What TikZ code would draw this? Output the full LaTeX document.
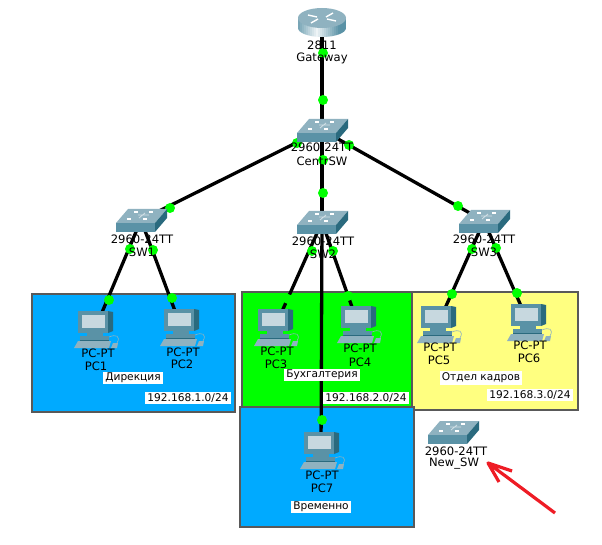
\documentclass[tikz,border=0pt]{standalone}
\usepackage{fontspec}
\setmainfont{DejaVu Sans}
\definecolor{iconmid}{HTML}{5A92A6}
\definecolor{icondark}{HTML}{2A6A7E}
\definecolor{iconlight}{HTML}{8FB2C0}
\definecolor{areablue}{HTML}{00AAFF}
\definecolor{areagreen}{HTML}{00FF00}
\definecolor{areayellow}{HTML}{FFFF80}
\definecolor{pointerred}{HTML}{EE1C25}
\tikzset{
	x=1pt,y=-1pt,
	device/.style={inner sep=0pt,outer sep=0pt,minimum size=0pt},
	wire/.style={line width=3.3pt,black},
	linkdot/.style={circle,fill=areagreen,inner sep=0pt,minimum size=10pt},
	devlabel/.style={inner sep=0pt,font=\fontsize{11.6}{13}\selectfont,text=black},
	arealabel/.style={fill=white,inner xsep=2pt,inner ysep=1.5pt,font=\fontsize{10.6}{12}\selectfont,text=black},
	area/.style={draw=black!65,line width=1.4pt},
	pics/netswitch/.style={code={
		\fill[iconlight] (-25,3) -- (-13,-11) -- (26,-11) -- (14,3) -- cycle;
		\fill[iconmid] (-25,3) rectangle (14,12);
		\fill[icondark] (14,3) -- (26,-11) -- (26,-2) -- (14,12) -- cycle;
		\draw[white,line width=1.1pt] (-7,-8) -- (-3,-8) (8,-8) -- (12,-8) (-14,-1) -- (-10,-1) (2,-1) -- (6,-1);
		\draw[white!60!iconlight,line width=.8pt] (-2,-2) -- (4,-7) (-3,-5) -- (8,-5);
	}},
	pics/netpc/.style={code={
		\fill[icondark] (13,-18) -- (18,-17) -- (18,2) -- (13,4) -- cycle;
		\fill[iconmid] (-17,-18) rectangle (13,4);
		\fill[iconlight!50!white] (-13,-14) rectangle (10,-1);
		\fill[iconmid] (-8,4) rectangle (8,7);
		\fill[iconmid] (-15,7) rectangle (14,11);
		\fill[icondark] (-15,11) rectangle (14,12);
		\fill[iconlight] (-17,12) -- (16,12) -- (14,19) -- (-21,19) -- cycle;
		\fill[iconlight] (18,14) -- (23,14) -- (22,19) -- (16,19) -- cycle;
		\draw[iconlight,line width=.6pt] (14,8) .. controls (21,5) and (26,7) .. (22,14);
	}},
	pics/netrouter/.style={code={
		\begin{scope}
			\clip (-24,-2) -- (-24,8) arc[start angle=180,end angle=360,x radius=24pt,y radius=9pt] -- (24,-2) -- cycle;
			% cylinder wall, brightest left of the middle
			\foreach \i in {-24,-22,...,22}{
				\pgfmathtruncatemacro{\lit}{max(0,90-4*abs(\i+6))}
				\fill[white!\lit!iconmid] (\i,-2) rectangle (\i+2.3,18);
			}
		\end{scope}
		\fill[iconlight] (0,-2) ellipse[x radius=24pt,y radius=10pt];
		\draw[white,line width=1.4pt] (-14,-5) -- (-5,-3) (14,1) -- (5,-1) (-11,3) -- (-4,-1) (11,-7) -- (4,-3);
	}}
}
\begin{document}
\begin{tikzpicture}
	\useasboundingbox (0,0) rectangle (602,545);
	
	\draw[area,fill=areablue] (32,294) rectangle (235,412);
	\draw[area,fill=areayellow] (412,292) rectangle (578,410);
	\draw[area,fill=areagreen] (242,292) rectangle (412,407);
	\draw[area,fill=areablue] (240,407) rectangle (414,527);
	
	\node[device] (Gateway) at (322,20) {};
	\node[device] (CentrSW) at (322,130) {};
	\node[device] (SW1) at (141,220) {};
	\node[device] (SW2) at (322,222) {};
	\node[device] (SW3) at (484,221) {};
	\node[device] (NewSW) at (453,432) {};
	\node[device] (PC1) at (95,329) {};
	\node[device] (PC2) at (181,327) {};
	\node[device] (PC3) at (275,327) {};
	\node[device] (PC4) at (358,324) {};
	\node[device] (PC5) at (438,324) {};
	\node[device] (PC6) at (528,322) {};
	\node[device] (PC7) at (321,450) {};
	
	\draw[wire] (Gateway) -- (CentrSW);
	\draw[wire] (CentrSW) -- (SW1);
	\draw[wire] (CentrSW) -- (SW2);
	\draw[wire] (CentrSW) -- (SW3);
	\draw[wire] (SW1) -- (PC1);
	\draw[wire] (SW1) -- (PC2);
	\draw[wire] (SW2) -- (PC3);
	\draw[wire] (SW2) -- (PC4);
	\draw[wire] (SW3) -- (PC5);
	\draw[wire] (SW3) -- (PC6);
	
	% link lights
	\node[linkdot] (dGa) at (323,53) {};
	\node[linkdot] (dCa) at (323,100) {};
	\node[linkdot] (dCb) at (297,143) {};
	\node[linkdot] (dCc) at (323,160) {};
	\node[linkdot] (dCd) at (349,145) {};
	\node[linkdot] (dSa) at (170,208) {};
	\node[linkdot] (dSb) at (323,193) {};
	\node[linkdot] (dSc) at (458,206) {};
	\node[linkdot] (dAa) at (130,249) {};
	\node[linkdot] (dAb) at (153,250) {};
	\node[linkdot] (dBa) at (312,251) {};
	\node[linkdot] (dBb) at (333,251) {};
	\node[linkdot] (dEa) at (472,249) {};
	\node[linkdot] (dEb) at (496,248) {};
	\node[linkdot] (dPa) at (109,300) {};
	\node[linkdot] (dPb) at (172,298) {};
	\node[linkdot] (dPc) at (288,299) {};
	\node[linkdot] (dPd) at (348,296) {};
	\node[linkdot] (dPe) at (452,294) {};
	\node[linkdot] (dPf) at (517,293) {};
	
	% the PC7 cable runs over the lights of SW2
	\draw[wire] (SW2) -- (PC7);
	\node[linkdot] (dPg) at (322,420) {};
	
	\pic at (Gateway) {netrouter};
	\pic at (CentrSW) {netswitch};
	\pic at (SW1) {netswitch};
	\pic at (SW2) {netswitch};
	\pic at (SW3) {netswitch};
	\pic at (NewSW) {netswitch};
	\pic at (PC1) {netpc};
	\pic at (PC2) {netpc};
	\pic at (PC3) {netpc};
	\pic at (PC4) {netpc};
	\pic at (PC5) {netpc};
	\pic at (PC6) {netpc};
	\pic at (PC7) {netpc};
	
	\node[devlabel] (tGateway) at (322,45) {2811};
	\node[devlabel] (nGateway) at (322,58) {Gateway};
	\node[devlabel] (tCentrSW) at (322,147) {2960-24TT};
	\node[devlabel] (nCentrSW) at (322,161) {CentrSW};
	\node[devlabel] (tSW1) at (142,239) {2960-24TT};
	\node[devlabel] (nSW1) at (142,252) {SW1};
	\node[devlabel] (tSW2) at (323,241) {2960-24TT};
	\node[devlabel] (nSW2) at (323,254) {SW2};
	\node[devlabel] (tSW3) at (484,239) {2960-24TT};
	\node[devlabel] (nSW3) at (484,252) {SW3};
	\node[devlabel] (tNewSW) at (456,451) {2960-24TT};
	\node[devlabel] (nNewSW) at (454,464) {New\_SW};
	
	\node[devlabel] (tPC1) at (98,353) {PC-PT};
	\node[devlabel] (nPC1) at (96,366) {PC1};
	\node[devlabel] (tPC2) at (183,352) {PC-PT};
	\node[devlabel] (nPC2) at (182,364) {PC2};
	\node[devlabel] (tPC3) at (277,351) {PC-PT};
	\node[devlabel] (nPC3) at (276,364) {PC3};
	\node[devlabel] (tPC4) at (360,348) {PC-PT};
	\node[devlabel] (nPC4) at (360,362) {PC4};
	\node[devlabel] (tPC5) at (440,347) {PC-PT};
	\node[devlabel] (nPC5) at (439,360) {PC5};
	\node[devlabel] (tPC6) at (530,345) {PC-PT};
	\node[devlabel] (nPC6) at (529,358) {PC6};
	\node[devlabel] (tPC7) at (322,475) {PC-PT};
	\node[devlabel] (nPC7) at (322,488) {PC7};
	
	\node[arealabel] (lDir) at (133,378) {Дирекция};
	\node[arealabel] (lBuh) at (322,375) {Бухгалтерия};
	\node[arealabel] (lHR) at (481,378) {Отдел кадров};
	\node[arealabel] (lTmp) at (321,507) {Временно};
	\node[arealabel] (lNetA) at (188,398) {192.168.1.0/24};
	\node[arealabel] (lNetB) at (366,398) {192.168.2.0/24};
	\node[arealabel] (lNetC) at (530,395) {192.168.3.0/24};
	
	% hand drawn pointer to the new switch
	\coordinate (ptrEnd) at (555,513);
	\coordinate (ptrTip) at (488,463);
	\draw[pointerred,line width=3.2pt,line join=round] (ptrEnd) -- (ptrTip) -- (512,471) (ptrTip) -- (499,482);
\end{tikzpicture}
\end{document}
